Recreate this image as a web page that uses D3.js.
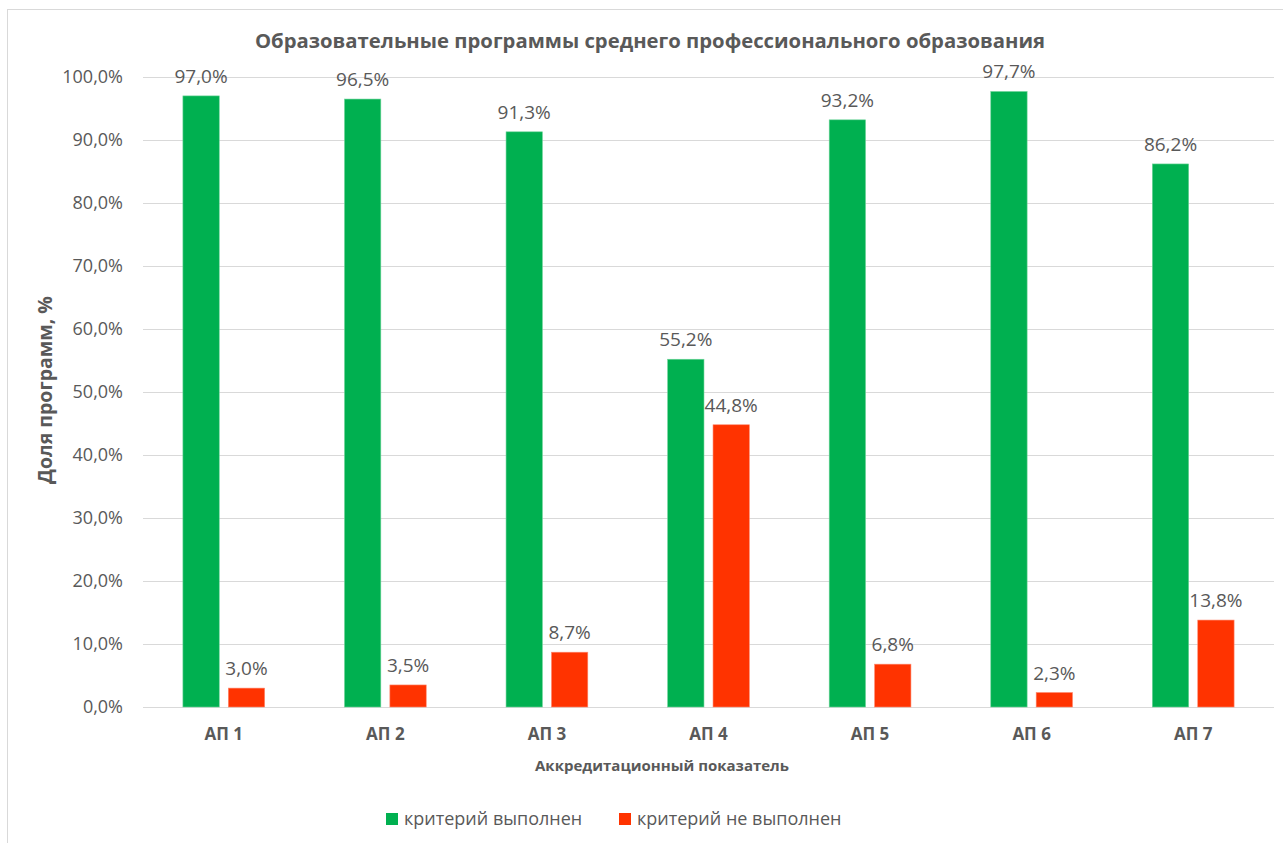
<!DOCTYPE html>
<html>
<head>
<meta charset="utf-8" />
<title>Образовательные программы СПО</title>
<script src="https://d3js.org/d3.v7.min.js"></script>
<style>
  body { margin: 0; background: #fff; }
  text { font-family: "Open Sans", "Noto Sans", sans-serif; fill: #595959; }
</style>
</head>
<body>
<svg id="chart" width="1283" height="843"></svg>
<script>
// data
var categories = ["АП 1", "АП 2", "АП 3", "АП 4", "АП 5", "АП 6", "АП 7"];
var seriesNames = ["критерий выполнен", "критерий не выполнен"];
var metValues = [97.0, 96.5, 91.3, 55.2, 93.2, 97.7, 86.2];
var notMetValues = [3.0, 3.5, 8.7, 44.8, 6.8, 2.3, 13.8];
var yTicks = [0, 10, 20, 30, 40, 50, 60, 70, 80, 90, 100];
var colors = ["#00b050", "#ff3300"];

var svg = d3.select("#chart");
var margin = { left: 143, right: 1274, top: 77, bottom: 707 };

// outer frame
svg.append("rect")
  .attr("x", 7.5).attr("y", 9.5)
  .attr("width", 1290).attr("height", 850)
  .attr("fill", "none")
  .attr("stroke", "#d9d9d9");

var x = d3.scaleBand()
  .domain(categories)
  .range([margin.left, margin.right]);

var y = d3.scaleLinear()
  .domain([0, 100])
  .range([margin.bottom, margin.top]);

var fmt = function(v) { return v.toFixed(1).replace(".", ",") + "%"; };

// grid
svg.append("g").selectAll("line")
  .data(yTicks)
  .join("line")
  .attr("x1", margin.left).attr("x2", margin.right)
  .attr("y1", function(d) { return Math.round(y(d)) + 0.5; })
  .attr("y2", function(d) { return Math.round(y(d)) + 0.5; })
  .attr("stroke", "#d9d9d9");

// y axis
var yAxis = d3.axisLeft(y).tickValues(yTicks).tickSize(0).tickPadding(0)
  .tickFormat(fmt);
svg.append("g")
  .attr("transform", "translate(123,0)")
  .call(yAxis)
  .call(function(g) { g.select(".domain").remove(); })
  .selectAll("text")
  .attr("font-size", "18px")
  .attr("font-family", null)
  .attr("fill", null);

// x axis
var xAxis = d3.axisBottom(x).tickSize(0).tickPadding(0);
svg.append("g")
  .attr("transform", "translate(0," + (margin.bottom + 21) + ")")
  .call(xAxis)
  .call(function(g) { g.select(".domain").remove(); })
  .selectAll("text")
  .attr("font-size", "17px")
  .attr("font-weight", "bold")
  .attr("font-family", null)
  .attr("fill", null);

var bw = x.bandwidth() * 0.225;
var gap = x.bandwidth() * 0.056;

var rows = categories.map(function(c, i) {
  return [
    { cat: c, s: 0, v: metValues[i] },
    { cat: c, s: 1, v: notMetValues[i] }
  ];
});
var flat = [].concat.apply([], rows);

function barX(d) {
  var mid = x(d.cat) + x.bandwidth() / 2;
  return d.s === 0 ? mid - gap / 2 - bw : mid + gap / 2;
}

svg.append("g").selectAll("rect")
  .data(flat)
  .join("rect")
  .attr("x", barX)
  .attr("y", function(d) { return y(d.v); })
  .attr("width", bw)
  .attr("height", function(d) { return y(0) - y(d.v); })
  .attr("fill", function(d) { return colors[d.s]; })
  .attr("stroke", function(d) { return d.s === 0 ? "#6fd49a" : "#ff8a70"; })
  .attr("stroke-width", 0.6);

svg.append("g").selectAll("text")
  .data(flat)
  .join("text")
  .attr("x", function(d) { return barX(d) + bw / 2; })
  .attr("y", function(d) { return y(d.v) - 13; })
  .attr("text-anchor", "middle")
  .attr("font-size", "19px")
  .text(function(d) { return fmt(d.v); });

// titles
svg.append("text")
  .attr("x", 650).attr("y", 48)
  .attr("text-anchor", "middle")
  .attr("font-size", "20.3px")
  .attr("font-weight", "bold")
  .text("Образовательные программы среднего профессионального образования");

svg.append("text")
  .attr("x", 662).attr("y", 771)
  .attr("text-anchor", "middle")
  .attr("font-size", "15px")
  .attr("font-weight", "bold")
  .text("Аккредитационный показатель");

svg.append("text")
  .attr("transform", "translate(52,390) rotate(-90)")
  .attr("text-anchor", "middle")
  .attr("font-size", "19.5px")
  .attr("font-weight", "bold")
  .text("Доля программ, %");

// legend
var legendX = [386, 619];
var legend = svg.append("g").selectAll("g")
  .data(seriesNames)
  .join("g")
  .attr("transform", function(d, i) { return "translate(" + legendX[i] + ",813)"; });
legend.append("rect")
  .attr("width", 12).attr("height", 12)
  .attr("fill", function(d, i) { return colors[i]; });
legend.append("text")
  .attr("x", 18).attr("y", 12)
  .attr("font-size", "18px")
  .text(function(d) { return d; });
</script>
</body>
</html>
